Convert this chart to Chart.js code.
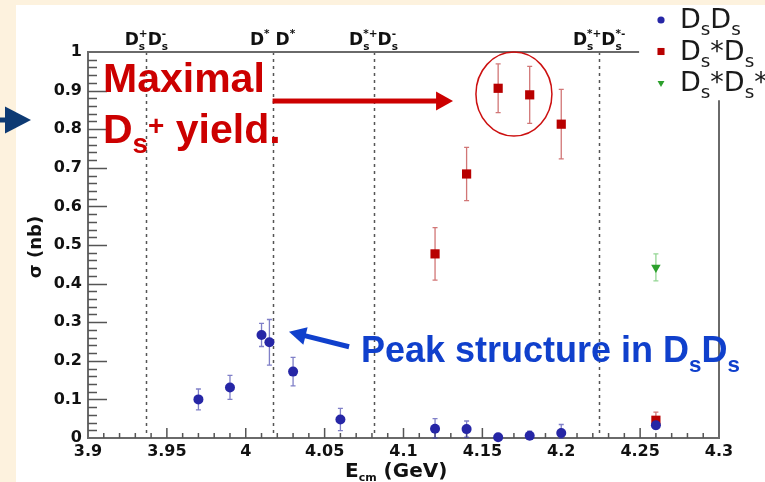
<!DOCTYPE html>
<html lang="en">
<head>
<meta charset="UTF-8">
<title>Ds cross sections</title>
<script src="https://cdn.jsdelivr.net/npm/chart.js@4.4.0/dist/chart.umd.min.js"></script>
<style>
  html, body { margin: 0; padding: 0; background: #fff; }
  #wrap { width: 765px; height: 482px; }
</style>
</head>
<body>
<div id="wrap"><canvas id="xsec" width="765" height="482"></canvas></div>
<script>
// cross sections in nb vs. c.m. energy in GeV
const dsdsE     = [3.97, 3.99, 4.01, 4.015, 4.03, 4.06, 4.12, 4.14, 4.16, 4.18, 4.20, 4.26];
const dsdsSigma = [0.100, 0.131, 0.267, 0.248, 0.172, 0.048, 0.024, 0.023, 0.002, 0.006, 0.013, 0.033];
const dsdsErr   = [0.027, 0.031, 0.030, 0.059, 0.037, 0.029, 0.026, 0.021, 0.006, 0.012, 0.022, 0.010];

const dsstE     = [4.12, 4.14, 4.16, 4.18, 4.20, 4.26];
const dsstSigma = [0.477, 0.684, 0.906, 0.889, 0.813, 0.046];
const dsstErr   = [0.068, 0.069, 0.063, 0.074, 0.090, 0.021];

const dsstdsstE     = [4.26];
const dsstdsstSigma = [0.442];
const dsstdsstErr   = [0.035];

// open charm thresholds (GeV) and their labels
const thresholds = [3.937, 4.017, 4.081, 4.224];
const thresholdLabels = [
  ['D', {sub: 's', sup: '+'}, 'D', {sub: 's', sup: '-'}],
  ['D', {sup: '*'}, ' D', {sup: '*'}],
  ['D', {sub: 's', sup: '*+'}, 'D', {sub: 's', sup: '-'}],
  ['D', {sub: 's', sup: '*+'}, 'D', {sub: 's', sup: '*-'}]
];

const xTicks = [3.9, 3.95, 4.0, 4.05, 4.1, 4.15, 4.2, 4.25, 4.3];
const yTicks = [0, 0.1, 0.2, 0.3, 0.4, 0.5, 0.6, 0.7, 0.8, 0.9, 1.0];

const seriesNames = [
  ['D', {sub: 's'}, 'D', {sub: 's'}],
  ['D', {sub: 's'}, '*D', {sub: 's'}],
  ['D', {sub: 's'}, '*D', {sub: 's'}, '*']
];

const BLUE = '#2626a6', RED = '#b80000', GREEN = '#2ca02c';
const ROOTFONT = '"DejaVu Sans", sans-serif';
const SLIDEFONT = '"Liberation Sans", Arial, sans-serif';

function toPoints(xs, ys) {
  return xs.map((x, i) => ({x: x, y: ys[i]}));
}

// text with sub/superscripts; parts are strings or {sub, sup}
function drawRich(ctx, parts, x, y, size, o) {
  const weight = o.weight || 'bold';
  const fam = o.family || ROOTFONT;
  const ss = size * (o.subScale || 0.62);
  const f = s => weight + ' ' + s + 'px ' + fam;
  const widths = parts.map(p => {
    if (typeof p === 'string') { ctx.font = f(size); return ctx.measureText(p).width; }
    ctx.font = f(ss);
    return Math.max(p.sub ? ctx.measureText(p.sub).width : 0, p.sup ? ctx.measureText(p.sup).width : 0);
  });
  const total = widths.reduce((a, b) => a + b, 0);
  let cx = o.align === 'center' ? x - total / 2 : x;
  ctx.save();
  ctx.fillStyle = o.color || '#111';
  ctx.textAlign = 'left';
  ctx.textBaseline = 'alphabetic';
  parts.forEach((p, i) => {
    if (typeof p === 'string') {
      ctx.font = f(size);
      ctx.fillText(p, cx, y);
    } else {
      ctx.font = f(ss);
      if (p.sub) ctx.fillText(p.sub, cx, y + size * (o.subDy || 0.28));
      if (p.sup) ctx.fillText(p.sup, cx, y - size * (o.supDy || 0.42));
    }
    cx += widths[i];
  });
  ctx.restore();
}

function arrow(ctx, x0, y0, x1, y1, width, headLen, headHalf, color) {
  const a = Math.atan2(y1 - y0, x1 - x0);
  const len = Math.hypot(x1 - x0, y1 - y0);
  ctx.save();
  ctx.translate(x0, y0);
  ctx.rotate(a);
  ctx.fillStyle = color;
  ctx.fillRect(0, -width / 2, len - headLen + 1, width);
  ctx.beginPath();
  ctx.moveTo(len - headLen, -headHalf);
  ctx.lineTo(len, 0);
  ctx.lineTo(len - headLen, headHalf);
  ctx.closePath();
  ctx.fill();
  ctx.restore();
}

const errors = [dsdsErr, dsstErr, dsstdsstErr];
const barColors = ['rgba(60,60,170,0.65)', 'rgba(190,60,60,0.7)', 'rgba(60,180,60,0.55)'];

const rootPlot = {
  id: 'rootPlot',
  beforeDraw(chart) {
    const ctx = chart.ctx;
    ctx.save();
    ctx.fillStyle = '#fdf2de';
    ctx.fillRect(0, 0, chart.width, chart.height);
    ctx.fillStyle = '#ffffff';
    ctx.fillRect(16, 5, chart.width - 16, chart.height - 5);
    ctx.restore();
  },
  beforeDatasetsDraw(chart) {
    const ctx = chart.ctx, a = chart.chartArea;
    const xs = chart.scales.x, ys = chart.scales.y;
    ctx.save();
    // threshold lines
    ctx.strokeStyle = '#555';
    ctx.lineWidth = 1.5;
    ctx.setLineDash([3, 4]);
    thresholds.forEach(t => {
      const px = Math.round(xs.getPixelForValue(t)) + 0.5;
      ctx.beginPath();
      ctx.moveTo(px, a.top);
      ctx.lineTo(px, a.bottom);
      ctx.stroke();
    });
    ctx.setLineDash([]);

    // frame, the top right corner is left open for the legend
    ctx.strokeStyle = '#6a6a6a';
    ctx.lineWidth = 2;
    ctx.beginPath();
    ctx.moveTo(xs.getPixelForValue(4.224) + 40, a.top);
    ctx.lineTo(a.left, a.top);
    ctx.lineTo(a.left, a.bottom);
    ctx.lineTo(a.right, a.bottom);
    ctx.lineTo(a.right, ys.getPixelForValue(0.875));
    ctx.stroke();

    // inward ticks
    ctx.lineWidth = 1.5;
    ctx.strokeStyle = '#555';
    ctx.beginPath();
    for (let i = 1; i < 40; i++) {
      const px = xs.getPixelForValue(3.9 + i * 0.01);
      const len = i % 5 === 0 ? 10 : 5;
      ctx.moveTo(px, a.bottom);
      ctx.lineTo(px, a.bottom - len);
    }
    for (let i = 1; i < 50; i++) {
      const py = Math.round(ys.getPixelForValue(i * 0.02)) + 0.5;
      const len = i % 5 === 0 ? 19 : 9;
      ctx.moveTo(a.left, py);
      ctx.lineTo(a.left + len, py);
    }
    ctx.stroke();

    // error bars under the markers
    chart.data.datasets.forEach((ds, di) => {
      ctx.strokeStyle = barColors[di];
      ctx.lineWidth = 1.3;
      ds.data.forEach((p, i) => {
        const e = errors[di][i];
        const px = xs.getPixelForValue(p.x);
        const top = ys.getPixelForValue(p.y + e);
        const bot = Math.min(ys.getPixelForValue(Math.max(p.y - e, 0)), a.bottom);
        ctx.beginPath();
        ctx.moveTo(px, top); ctx.lineTo(px, bot);
        ctx.moveTo(px - 2.5, top); ctx.lineTo(px + 2.5, top);
        ctx.moveTo(px - 2.5, bot); ctx.lineTo(px + 2.5, bot);
        ctx.stroke();
      });
    });
    ctx.restore();
  },
  afterDatasetsDraw(chart) {
    const ctx = chart.ctx, a = chart.chartArea;
    const xs = chart.scales.x, ys = chart.scales.y;

    thresholds.forEach((t, i) => {
      drawRich(ctx, thresholdLabels[i], xs.getPixelForValue(t), 45, 17, {align: 'center', subDy: 0.3, supDy: 0.5});
    });

    // legend
    const markers = [
      {style: 'circle', color: BLUE, r: 3.6, rot: 0},
      {style: 'rect', color: RED, r: 5, rot: 0},
      {style: 'triangle', color: GREEN, r: 4, rot: 180}
    ];
    markers.forEach((m, i) => {
      const cy = 20 + i * 31.5;
      ctx.save();
      ctx.fillStyle = m.color;
      ctx.strokeStyle = m.color;
      Chart.helpers.drawPoint(ctx, {pointStyle: m.style, radius: m.r, rotation: m.rot, borderWidth: 0}, 661, cy);
      ctx.restore();
      drawRich(ctx, seriesNames[i], 680, cy + 8, 27, {weight: 'normal', subScale: 0.68, subDy: 0.26, color: '#1a1a1a'});
    });

    // axis titles
    ctx.save();
    ctx.translate(36, 247);
    ctx.rotate(-Math.PI / 2);
    ctx.font = 'bold 18px ' + ROOTFONT;
    ctx.fillStyle = '#111';
    ctx.textAlign = 'center';
    ctx.textBaseline = 'middle';
    ctx.fillText('σ (nb)', 0, 0);
    ctx.restore();
    drawRich(ctx, ['E', {sub: 'cm'}, ' (GeV)'], 345, 477, 20, {subScale: 0.55, subDy: 0.2});

    // slide annotations
    ctx.save();
    ctx.strokeStyle = '#cc1010';
    ctx.lineWidth = 1.5;
    ctx.beginPath();
    ctx.ellipse(xs.getPixelForValue(4.17), ys.getPixelForValue(0.891), 38, 42, 0, 0, Math.PI * 2);
    ctx.stroke();
    ctx.restore();
    arrow(ctx, xs.getPixelForValue(4.017), ys.getPixelForValue(0.873), xs.getPixelForValue(4.1314), ys.getPixelForValue(0.873), 5, 17, 9.5, '#cc0000');
    arrow(ctx, xs.getPixelForValue(4.0655), ys.getPixelForValue(0.2365), xs.getPixelForValue(4.0274), ys.getPixelForValue(0.275), 5, 17, 9, '#1040cc');
    arrow(ctx, 0, 120, 31, 120, 5, 26, 13.5, '#0d3a73');

    ctx.save();
    ctx.font = 'bold 41px ' + SLIDEFONT;
    ctx.fillStyle = '#cc0000';
    ctx.fillText('Maximal', 103, 92);
    ctx.restore();
    drawRich(ctx, ['D', {sub: 's'}, {sup: '+'}, ' yield.'], 103, 143, 41,
      {family: SLIDEFONT, color: '#cc0000', subScale: 0.68, subDy: 0.24, supDy: 0.2});
    drawRich(ctx, ['Peak structure in D', {sub: 's'}, 'D', {sub: 's'}], 361, 362, 36,
      {family: SLIDEFONT, color: '#1040cc', subScale: 0.62, subDy: 0.28});
  }
};

const tickFont = {family: ROOTFONT, size: 16, weight: 'bold'};

new Chart(document.getElementById('xsec'), {
  type: 'scatter',
  data: {
    datasets: [
      {label: 'DsDs', data: toPoints(dsdsE, dsdsSigma), pointStyle: 'circle', radius: 5,
       backgroundColor: BLUE, borderColor: BLUE, borderWidth: 0, clip: false},
      {label: 'Ds*Ds', data: toPoints(dsstE, dsstSigma), pointStyle: 'rect', radius: 6.5,
       backgroundColor: RED, borderColor: RED, borderWidth: 0, clip: false},
      {label: 'Ds*Ds*', data: toPoints(dsstdsstE, dsstdsstSigma), pointStyle: 'triangle', rotation: 180, radius: 5.5,
       backgroundColor: GREEN, borderColor: GREEN, borderWidth: 0, clip: false}
    ]
  },
  options: {
    responsive: false,
    animation: false,
    devicePixelRatio: 1,
    layout: {padding: {left: 28, top: 52, right: 46, bottom: 24}},
    plugins: {legend: {display: false}, tooltip: {enabled: false}},
    scales: {
      x: {
        type: 'linear', min: 3.9, max: 4.3,
        grid: {display: false, drawTicks: false},
        border: {display: false},
        afterBuildTicks: s => { s.ticks = xTicks.map(v => ({value: v})); },
        afterFit: s => { s.height = 20; },
        ticks: {font: tickFont, color: '#111', padding: 4, maxRotation: 0, autoSkip: false,
                callback: v => String(+v.toFixed(2))}
      },
      y: {
        type: 'linear', min: 0, max: 1,
        grid: {display: false, drawTicks: false},
        border: {display: false},
        afterBuildTicks: s => { s.ticks = yTicks.map(v => ({value: v})); },
        afterFit: s => { s.width = 60; },
        ticks: {font: tickFont, color: '#111', padding: 6,
                callback: v => String(+v.toFixed(1))}
      }
    }
  },
  plugins: [rootPlot]
});
</script>
</body>
</html>
